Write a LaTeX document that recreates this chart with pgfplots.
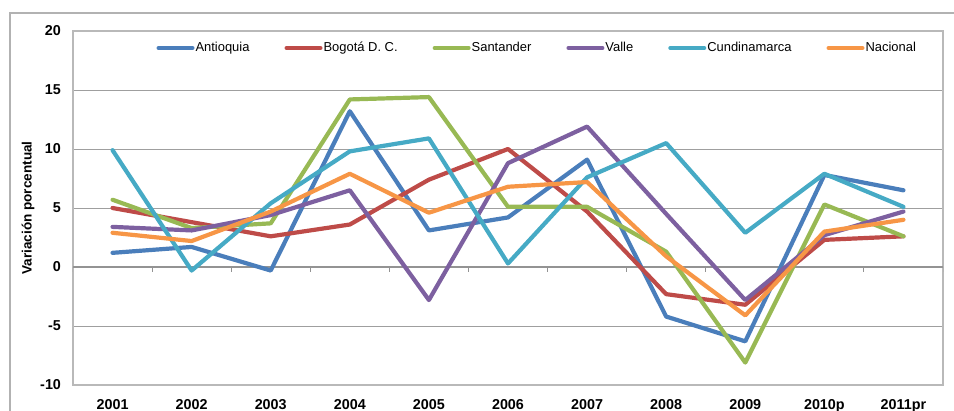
\documentclass[border=0pt]{standalone}
\usepackage{pgfplots}
\pgfplotsset{compat=1.18}
\usepackage{fontspec}
\setmainfont{Liberation Sans}
\definecolor{cA}{HTML}{4A7EBB}
\definecolor{cB}{HTML}{BE4B48}
\definecolor{cS}{HTML}{98B954}
\definecolor{cV}{HTML}{7D60A0}
\definecolor{cC}{HTML}{46AAC5}
\definecolor{cN}{HTML}{F79646}
\begin{document}
\begin{tikzpicture}
\path[use as bounding box] (-36.5bp,-13bp) rectangle (440.5bp,192.5bp);
\draw[gray!60, line width=0.8bp] (-31.5bp,-13bp) -- (-31.5bp,186bp) -- (440.5bp,186bp);
\begin{axis}[
  at={(0,0)}, anchor=south west,
  scale only axis, width=435bp, height=177bp,
  xmin=-0.5, xmax=10.5, ymin=-10, ymax=20,
  xtick={0,...,10},
  xticklabels={2001,2002,2003,2004,2005,2006,2007,2008,2009,2010p,2011pr},
  ytick={-10,-5,0,5,10,15,20},
  yticklabels={-10,-5,0,5,10,15,20},
  major tick length=0pt,
  ymajorgrids, grid style={gray!75, line width=0.5bp},
  axis line style={gray!55, line width=0.6bp},
  tick label style={font=\fontsize{7.2}{8}\selectfont\bfseries},
  xticklabel style={yshift=-3.5bp},
  yticklabel style={xshift=-2.5bp},
  ylabel={Variación porcentual},
  ylabel style={font=\fontsize{6.8}{8}\selectfont\bfseries, yshift=-4bp},
  legend columns=6,
  legend style={draw=none, fill=none, at={(0.533,0.952)}, anchor=center,
    font=\fontsize{6.5}{8}\selectfont, /tikz/every even column/.append style={column sep=17bp},
    inner sep=0pt, nodes={inner sep=0.5bp}},
  legend cell align=left,
  legend image code/.code={\draw[#1, line width=2bp] (0bp,0bp) -- (17bp,0bp);},
  every axis plot/.append style={line width=2.1bp, line join=round, line cap=round},
]
\draw[gray!85, line width=0.6bp] (axis cs:-0.5,0) -- (axis cs:10.5,0);
\pgfplotsinvokeforeach{-0.5,0.5,1.5,2.5,3.5,4.5,5.5,6.5,7.5,8.5,9.5,10.5}{
  \draw[gray!85, line width=0.5bp] (axis cs:#1,0) -- ([yshift=-2.5bp]axis cs:#1,0);
}
\addplot[cA] coordinates {(0,1.2)(1,1.7)(2,-0.3)(3,13.2)(4,3.1)(5,4.2)(6,9.1)(7,-4.2)(8,-6.3)(9,7.8)(10,6.5)};
\addlegendentry{Antioquia}
\addplot[cB] coordinates {(0,5.0)(1,3.8)(2,2.6)(3,3.6)(4,7.4)(5,10.0)(6,4.7)(7,-2.3)(8,-3.2)(9,2.3)(10,2.6)};
\addlegendentry{Bogotá D. C.}
\addplot[cS] coordinates {(0,5.7)(1,3.3)(2,3.7)(3,14.2)(4,14.4)(5,5.1)(6,5.1)(7,1.3)(8,-8.1)(9,5.3)(10,2.6)};
\addlegendentry{Santander}
\addplot[cV] coordinates {(0,3.4)(1,3.1)(2,4.4)(3,6.5)(4,-2.8)(5,8.8)(6,11.9)(7,4.5)(8,-2.8)(9,2.7)(10,4.7)};
\addlegendentry{Valle}
\addplot[cC] coordinates {(0,9.9)(1,-0.3)(2,5.4)(3,9.8)(4,10.9)(5,0.3)(6,7.6)(7,10.5)(8,2.9)(9,7.9)(10,5.1)};
\addlegendentry{Cundinamarca}
\addplot[cN] coordinates {(0,2.9)(1,2.2)(2,4.7)(3,7.9)(4,4.6)(5,6.8)(6,7.2)(7,0.9)(8,-4.1)(9,3.0)(10,4.0)};
\addlegendentry{Nacional}
\end{axis}
\end{tikzpicture}
\end{document}
